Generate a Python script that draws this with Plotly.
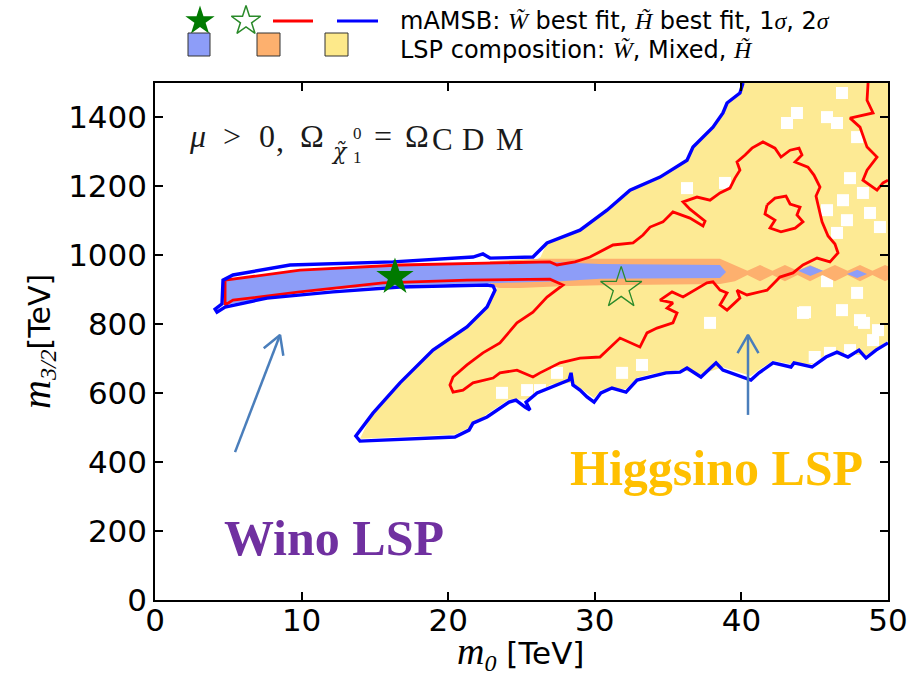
import math
import plotly.graph_objects as go

FIG_W, FIG_H = 922, 675
BOX_L, BOX_R, BOX_T, BOX_B = 155, 888, 83, 600

X_RANGE = [0, 50]
Y_RANGE = [0, 1500]
X_TICKS = [0, 10, 20, 30, 40, 50]
Y_TICKS = [0, 200, 400, 600, 800, 1000, 1200, 1400]

# Higgsino-LSP region (m0 [TeV], m3/2 [TeV])
HIGGSINO_X = [26.3, 26.74, 28.99, 30.83, 32.40, 34.45, 36.29, 36.70, 38.06, 38.74,
              39.02, 39.90, 40.11, 50.0, 50.0, 49.18, 48.50, 47.27, 45.77, 44.82,
              43.38, 42.16, 41.20, 40.65, 38.74, 37.24, 35.81, 33.83, 32.88, 32.13,
              30.42, 29.95, 28.51, 27.01, 25.31, 24.15, 22.65, 21.42, 20.46, 15.08,
              13.98, 14.87, 16.71, 18.96, 21.28, 22.65, 23.19, 23.5]
HIGGSINO_Y = [995, 1036, 1073, 1131, 1189, 1227, 1276, 1314, 1372, 1413,
              1442, 1471, 1500, 1500, 752, 730, 710, 712, 712, 684,
              684, 694, 668, 650, 675, 655, 668, 655, 645, 612,
              610, 585, 630, 625, 582, 582, 540, 500, 480, 470,
              468, 545, 632, 727, 794, 852, 899, 915]

# empty cells inside the Higgsino region
GAP_X = [46.86, 43.79, 43.11, 45.84, 46.52, 47.89, 36.29, 38.88, 47.41, 46.93,
         45.84, 48.29, 47.20, 48.77, 49.45, 46.52, 45.84, 47.89, 44.20, 46.86,
         48.09, 37.86, 33.22, 31.86, 27.42, 25.38, 23.67, 49.32, 48.98, 46.04,
         47.41, 44.34, 45.00, 48.36, 26.26]
GAP_Y = [1471, 1413, 1384, 1401, 1384, 1343, 1195, 1210, 1224, 1160,
         1131, 1181, 1102, 1123, 1082, 1065, 925, 891, 833, 841,
         812, 804, 682, 659, 659, 609, 601, 783, 754, 717,
         725, 835, 705, 804, 609]

# Mixed-LSP region
MIXED_X = [22.85, 26.26, 38.54, 39.56, 40.41, 41.27, 42.12, 42.97, 43.83, 44.68,
           45.53, 46.38, 47.24, 48.09, 48.94, 49.80, 50.0, 50.0, 49.80, 48.94,
           48.09, 47.24, 46.38, 45.53, 44.68, 43.83, 42.97, 42.12, 41.27, 40.41,
           39.56, 38.54, 33.08, 30.35, 27.63, 24.90, 23.53, 22.85]
MIXED_Y = [983, 990, 990, 972, 955, 972, 955, 972, 955, 972,
           955, 972, 955, 972, 955, 972, 968, 929, 925, 943,
           925, 943, 925, 943, 925, 943, 925, 943, 925, 943,
           925, 917, 915, 913, 910, 905, 905, 910]

# Wino-LSP region
WINO_X = [4.78, 9.89, 16.71, 22.85, 26.94, 30.35, 38.54, 38.95, 38.54, 30.35,
          27.63, 23.53, 16.71, 9.89, 4.78]
WINO_Y = [928, 957, 972, 978, 981, 975, 972, 952, 934, 932,
          925, 920, 914, 894, 856]
WINO_BLOB1_X = [43.86, 44.70, 45.57, 44.70]
WINO_BLOB1_Y = [955, 970, 955, 940]
WINO_BLOB2_X = [47.20, 47.90, 48.57, 47.90]
WINO_BLOB2_Y = [946, 958, 946, 934]

# 2 sigma contour
SIG2_X = [50.0, 49.18, 48.50, 48.02, 47.27, 46.52, 45.77, 44.82, 43.59, 43.38,
          42.16, 41.20, 40.65, 38.74, 38.27, 37.24, 36.29, 35.81, 34.86, 33.83,
          32.88, 32.13, 31.17, 30.42, 29.95, 29.47, 28.99, 28.51, 28.38, 28.24,
          27.01, 26.06, 25.31, 25.58, 25.24, 24.62, 24.15, 23.40, 22.65, 21.69,
          21.42, 20.46, 15.08, 13.98, 13.70, 14.87, 16.71, 18.96, 21.28, 22.65,
          23.19, 23.06, 22.65, 16.71, 12.14, 7.64, 4.78, 4.23, 4.10, 4.57,
          4.64, 5.32, 9.21, 16.23, 21.69, 22.37, 22.85, 25.78, 26.74, 28.99,
          30.83, 32.40, 34.45, 36.29, 36.70, 38.06, 38.74, 39.02, 39.90, 40.11]
SIG2_Y = [746, 725, 702, 725, 705, 719, 705, 676, 688, 676,
          688, 659, 638, 667, 688, 647, 673, 661, 659, 647,
          638, 603, 615, 601, 574, 589, 609, 624, 659, 638,
          618, 601, 574, 551, 560, 580, 574, 551, 531, 513,
          493, 473, 464, 461, 476, 542, 630, 725, 792, 850,
          899, 911, 914, 908, 894, 876, 850, 835, 844, 859,
          928, 943, 972, 981, 995, 1004, 992, 995, 1036, 1073,
          1131, 1189, 1227, 1276, 1314, 1372, 1413, 1442, 1471, 1500]

# 1 sigma contours
SIG1_X = [4.78, 9.89, 16.71, 26.94, 27.42, 28.65, 29.67, 31.24, 32.61, 33.29,
          33.77, 34.65, 35.33, 36.49, 37.38, 37.52, 36.49, 36.02, 36.97, 37.86,
          38.54, 39.22, 39.56, 39.90, 39.70, 40.25, 40.72, 41.47, 42.29, 42.70,
          43.32, 43.93, 44.13, 43.66, 44.54, 44.95, 45.36, 45.09, 45.23, 45.50,
          45.91, 46.38, 46.59, 46.04, 45.16, 44.20, 43.52, 42.63, 41.75, 40.38,
          39.70, 39.90, 39.02, 38.54, 39.02, 38.54, 38.06, 37.65, 36.02, 35.27,
          34.45, 35.33, 34.93, 35.61, 35.33, 34.24, 33.56, 33.08, 31.72, 30.35,
          28.99, 27.63, 26.26, 25.78, 24.69, 23.53, 23.06, 21.69, 21.01, 20.33,
          20.12, 20.33, 21.28, 22.37, 23.53, 24.69, 25.78, 26.74, 27.83, 26.94,
          21.28, 15.55, 9.89, 5.32, 4.78, 4.78]
SIG1_Y = [928, 957, 972, 981, 972, 981, 995, 1030, 1036, 1059,
          1082, 1097, 1126, 1108, 1085, 1099, 1134, 1155, 1169, 1160,
          1181, 1195, 1224, 1247, 1271, 1291, 1311, 1329, 1311, 1285,
          1305, 1311, 1291, 1271, 1256, 1233, 1198, 1172, 1146, 1097,
          1056, 1033, 1007, 981, 992, 972, 949, 937, 899, 885,
          899, 876, 841, 856, 891, 899, 923, 920, 879, 894,
          870, 862, 847, 833, 804, 789, 775, 734, 760, 705,
          702, 688, 659, 647, 667, 659, 644, 630, 609, 603,
          624, 647, 682, 717, 746, 804, 835, 879, 914, 931,
          928, 920, 894, 870, 856, 928]
SIG1_LOOP_X = [41.75, 42.29, 43.04, 43.32, 44.00, 43.79, 44.20, 43.66, 42.70, 41.95,
               42.29, 41.61, 41.75]
SIG1_LOOP_Y = [1146, 1166, 1172, 1149, 1140, 1117, 1097, 1079, 1068, 1079,
               1102, 1120, 1146]
SIG1_EDGE_X = [48.64, 48.57, 48.98, 47.41, 48.09, 48.57, 49.25, 48.57, 48.29, 49.25,
               49.66, 50.0]
SIG1_EDGE_Y = [1500, 1450, 1413, 1398, 1372, 1314, 1285, 1247, 1218, 1189,
               1210, 1218]

# best-fit points
WINO_BEST = (16.37, 937)
HIGGSINO_BEST = (31.8, 905)

# arrows (tail, head) in data units
ARROW_TAILS = [(5.46, 429), (40.45, 537)]
ARROW_HEADS = [(8.53, 769), (40.45, 769)]

YELLOW = "#fdea94"
ORANGE = "#fdb06e"
WBLUE = "#8d9df8"
RED = "#ff0000"
BLUE = "#0000ff"
ARROW_C = "#4a7ebb"

fig = go.Figure()


def poly(xs, ys, color):
    fig.add_trace(go.Scatter(x=xs, y=ys, mode="lines", fill="toself", fillcolor=color,
                             line=dict(width=0, color=color), hoverinfo="skip", showlegend=False))


poly(HIGGSINO_X, HIGGSINO_Y, YELLOW)
fig.add_trace(go.Scatter(x=GAP_X, y=GAP_Y, mode="markers",
                         marker=dict(symbol="square", size=12, color="white", line=dict(width=0)),
                         hoverinfo="skip", showlegend=False))
poly(MIXED_X, MIXED_Y, ORANGE)
poly(WINO_X, WINO_Y, WBLUE)
poly(WINO_BLOB1_X, WINO_BLOB1_Y, WBLUE)
poly(WINO_BLOB2_X, WINO_BLOB2_Y, WBLUE)


def curve(xs, ys, color, width):
    fig.add_trace(go.Scatter(x=xs, y=ys, mode="lines", line=dict(color=color, width=width),
                             hoverinfo="skip", showlegend=False))


curve(SIG1_X, SIG1_Y, RED, 2.8)
curve(SIG1_LOOP_X, SIG1_LOOP_Y, RED, 2.8)
curve(SIG1_EDGE_X, SIG1_EDGE_Y, RED, 2.8)
curve(SIG2_X, SIG2_Y, BLUE, 3.4)

fig.add_trace(go.Scatter(x=[WINO_BEST[0]], y=[WINO_BEST[1]], mode="markers",
                         marker=dict(symbol="star", size=28, color="#007a00", line=dict(width=0)),
                         hoverinfo="skip", showlegend=False))
fig.add_trace(go.Scatter(x=[HIGGSINO_BEST[0]], y=[HIGGSINO_BEST[1]], mode="markers",
                         marker=dict(symbol="star-open", size=31, color="#2a8a2a", line=dict(width=1.3)),
                         hoverinfo="skip", showlegend=False))

# arrows with open heads
SX = (BOX_R - BOX_L) / (X_RANGE[1] - X_RANGE[0])
SY = (BOX_B - BOX_T) / (Y_RANGE[1] - Y_RANGE[0])
HEAD_LEN, HEAD_ANG = 21, math.radians(30)
for (tx, ty), (hx, hy) in zip(ARROW_TAILS, ARROW_HEADS):
    dxp, dyp = (hx - tx) * SX, -(hy - ty) * SY
    L = math.hypot(dxp, dyp)
    bx, by = -dxp / L, -dyp / L
    ends = []
    for s in (1, -1):
        c, sn = math.cos(s * HEAD_ANG), math.sin(s * HEAD_ANG)
        ox, oy = (bx * c - by * sn) * HEAD_LEN, (bx * sn + by * c) * HEAD_LEN
        ends.append((hx + ox / SX, hy - oy / SY))
    xs = [tx, hx, None, ends[0][0], hx, ends[1][0]]
    ys = [ty, hy, None, ends[0][1], hy, ends[1][1]]
    fig.add_trace(go.Scatter(x=xs, y=ys, mode="lines", line=dict(color=ARROW_C, width=2.5),
                             hoverinfo="skip", showlegend=False))

# ---- legend / decorations in a full-figure pixel frame ----
fig.add_trace(go.Scatter(x=[200], y=[21], xaxis="x2", yaxis="y2", mode="markers",
                         marker=dict(symbol="star", size=22, color="#007a00"),
                         hoverinfo="skip", showlegend=False))
fig.add_trace(go.Scatter(x=[246], y=[21], xaxis="x2", yaxis="y2", mode="markers",
                         marker=dict(symbol="star-open", size=22, color="#2a8a2a", line=dict(width=1.5)),
                         hoverinfo="skip", showlegend=False))

shapes = [
    dict(type="line", xref="x2", yref="y2", x0=273, x1=313, y0=21, y1=21, line=dict(color=RED, width=3)),
    dict(type="line", xref="x2", yref="y2", x0=337, x1=378, y0=21, y1=21, line=dict(color=BLUE, width=3)),
    dict(type="rect", xref="x2", yref="y2", x0=188, x1=210, y0=33, y1=56, fillcolor=WBLUE, line=dict(color="#333", width=1)),
    dict(type="rect", xref="x2", yref="y2", x0=257, x1=280, y0=33, y1=56, fillcolor=ORANGE, line=dict(color="#333", width=1)),
    dict(type="rect", xref="x2", yref="y2", x0=325, x1=348, y0=33, y1=56, fillcolor="#fde98a", line=dict(color="#333", width=1)),
]

SERIF = "Liberation Serif"
SANS = "DejaVu Sans"


def ser(t, size=None):
    sz = f";font-size:{size}px" if size else ""
    return f'<span style="font-family:{SERIF}{sz}"><i>{t}</i></span>'


def txt(x, y, text, size, family, color="black", anchor="left", angle=0):
    return dict(x=x, y=y, xref="x2", yref="y2", xanchor=anchor, yanchor="middle",
                showarrow=False, text=text, textangle=angle,
                font=dict(family=family, size=size, color=color))


INK = "#1a1a1a"
MATH = [  # (x centre, y centre, glyph, size, family)
    (197, 136, "<i>μ</i>", 32, SERIF), (232, 136, ">", 32, SERIF), (267, 136, "0", 32, SERIF),
    (280, 140, ",", 32, SERIF), (312, 136, "Ω", 32, SERIF),
    (339, 151, "<i>χ̃</i>", 22, "DejaVu Serif"),
    (357, 133, "0", 17, SERIF), (357, 157, "1", 17, SERIF), (383, 136, "=", 32, SERIF),
    (417, 136, "Ω", 32, SERIF), (442, 139, "C", 31, SERIF), (473, 139, "D", 31, SERIF),
    (510, 139, "M", 31, SERIF),
]

annotations = [
    txt(398, 21, f"mAMSB: {ser('W̃')} best fit, {ser('H̃')} best fit, 1{ser('σ')}, 2{ser('σ')}", 24, SANS),
    txt(398, 50, f"LSP composition: {ser('W̃')}, Mixed, {ser('H̃')}", 24, SANS),
    txt(334, 538, "<b>Wino LSP</b>", 50, SERIF, "#7030a0", "center"),
    txt(716, 468, "<b>Higgsino LSP</b>", 50, SERIF, "#ffc000", "center"),
    txt(37, 342, f"{ser('m', 40)}<sub>{ser('3/2', 24)}</sub>[TeV]", 30, SANS, "black", "center", -90),
    txt(520, 653, f"{ser('m', 38)}<sub>{ser('0', 24)}</sub> [TeV]", 31, SANS, "black", "center"),
] + [txt(x, y, g, s, f, INK, "center") for (x, y, g, s, f) in MATH]

axis_common = dict(ticks="inside", ticklen=8, tickwidth=1.5, tickcolor="black",
                   showline=True, linecolor="black", linewidth=1.5, mirror="ticks",
                   showgrid=False, zeroline=False, automargin=False,
                   tickfont=dict(family=SANS, size=31, color="black"))

fig.update_layout(
    width=FIG_W, height=FIG_H,
    margin=dict(l=0, r=0, t=0, b=0, pad=0, autoexpand=False),
    paper_bgcolor="white", plot_bgcolor="rgba(0,0,0,0)",
    showlegend=False,
    xaxis=dict(domain=[BOX_L / FIG_W, BOX_R / FIG_W], range=X_RANGE, tickvals=X_TICKS,
               anchor="y", ticklabelstandoff=-8, **axis_common),
    yaxis=dict(domain=[1 - BOX_B / FIG_H, 1 - BOX_T / FIG_H], range=Y_RANGE, tickvals=Y_TICKS,
               anchor="x", **axis_common),
    xaxis2=dict(domain=[0, 1], range=[0, FIG_W], visible=False, anchor="y2",
                fixedrange=True, automargin=False),
    yaxis2=dict(domain=[0, 1], range=[FIG_H, 0], visible=False, anchor="x2",
                fixedrange=True, automargin=False),
    shapes=shapes,
    annotations=annotations,
)

fig.write_html("out.html")
